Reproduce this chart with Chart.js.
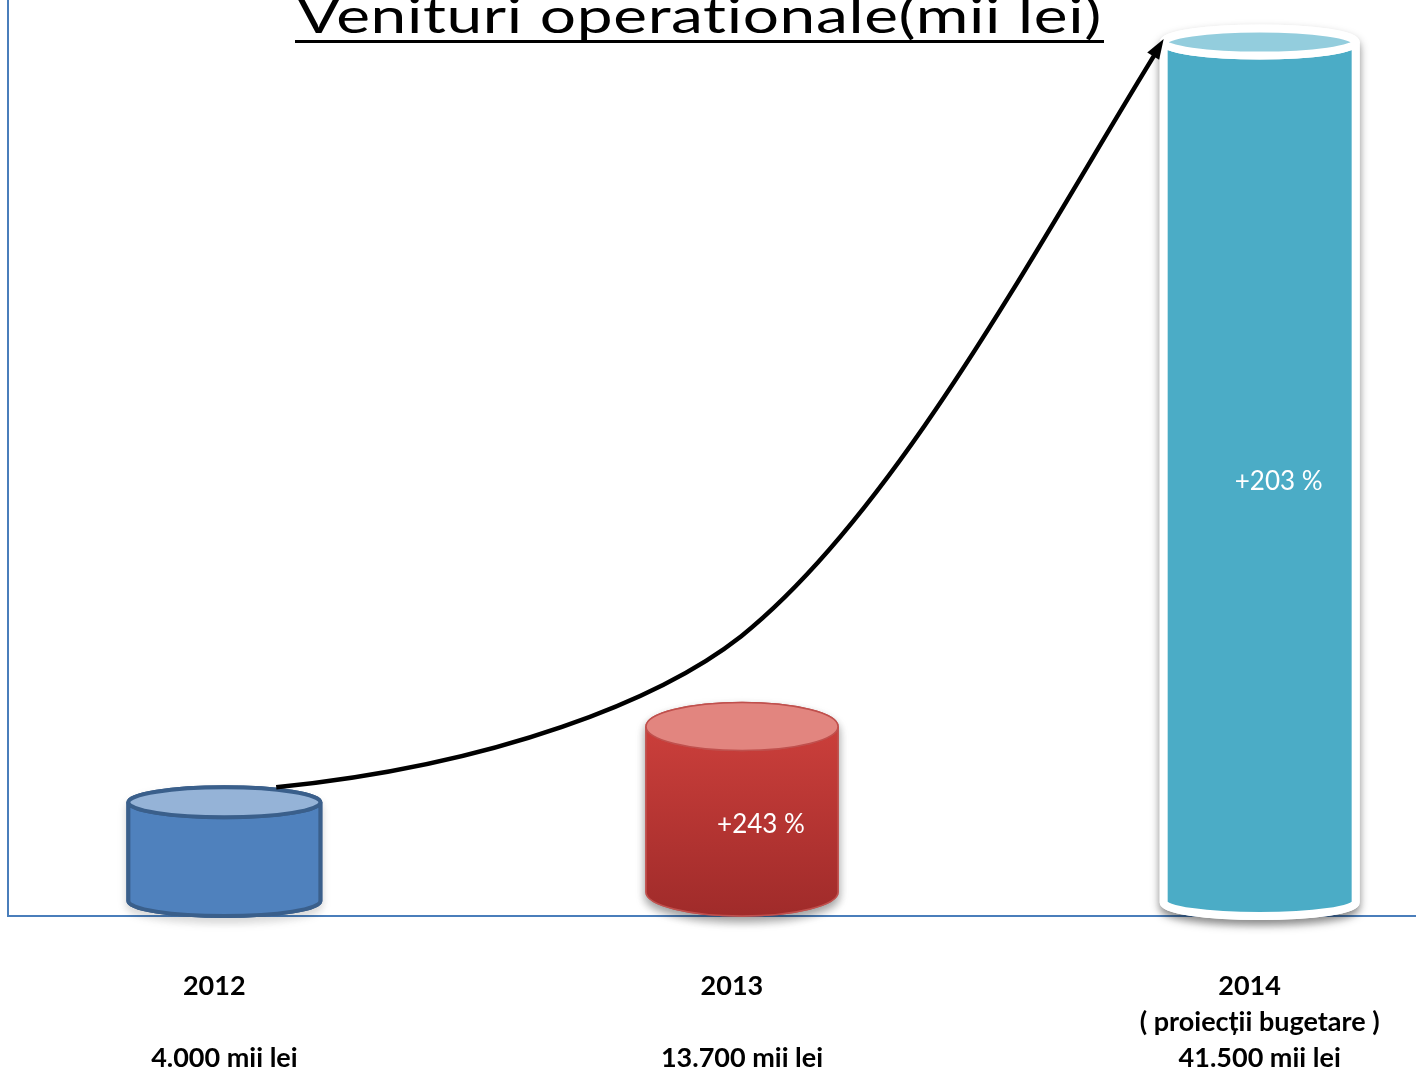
<!DOCTYPE html>
<html lang="ro">
<head>
<meta charset="utf-8">
<title>Venituri operationale</title>
<script src="https://cdn.jsdelivr.net/npm/chart.js@4"></script>
<style>
  html, body { margin: 0; padding: 0; background: #fff; }
  #wrap { width: 1416px; height: 1069px; }
</style>
</head>
<body>
<div id="wrap"><canvas id="chart"></canvas></div>
<script>
const titlu = "Venituri operationale(mii lei)";
const ani = ["2012", "2013", "2014"];
const note = ["", "", "( proiecții bugetare )"];
const venituri = [4000, 13700, 41500];
// inaltimea cilindrilor asa cum sunt desenati (mii lei pe axa ascunsa)
const inaltimi = [5400, 9000, 41500];
const cresteri = ["", "+243 %", "+203 %"];

const formatLei = (v) => String(v).replace(/\B(?=(\d{3})+(?!\d))/g, ".") + " mii lei";

const stiluri = [
  { corp: ["#4F81BD", "#4F81BD"], capac: "#95B3D7", contur: "#3A5F8B", linie: 4, ry: 15, umbra: "rgba(0,0,0,0.15)" },
  { corp: ["#CB3F3B", "#A02B2A"], capac: "#E2857F", contur: "#C0504D", linie: 1.5, ry: 24, umbra: "rgba(0,0,0,0.4)" },
  { corp: ["#4BACC6", "#4BACC6"], capac: "#93CDDD", contur: "#FFFFFF", linie: 8, ry: 13.5, umbra: "rgba(0,0,0,0.4)" },
];

function cilindru(ctx, bar, s) {
  const rx = bar.width / 2;
  const cx = bar.x;
  const yt = bar.y;
  const yb = bar.base - s.ry;

  const corp = () => {
    ctx.beginPath();
    ctx.moveTo(cx - rx, yt);
    ctx.lineTo(cx - rx, yb);
    ctx.ellipse(cx, yb, rx, s.ry, 0, Math.PI, 0, true);
    ctx.lineTo(cx + rx, yt);
    ctx.ellipse(cx, yt, rx, s.ry, 0, 0, Math.PI, false);
    ctx.closePath();
  };
  const silueta = () => {
    ctx.beginPath();
    ctx.moveTo(cx - rx, yt);
    ctx.lineTo(cx - rx, yb);
    ctx.ellipse(cx, yb, rx, s.ry, 0, Math.PI, 0, true);
    ctx.lineTo(cx + rx, yt);
    ctx.ellipse(cx, yt, rx, s.ry, 0, 0, Math.PI, true);
    ctx.closePath();
  };

  // umbra
  ctx.save();
  silueta();
  ctx.lineWidth = s.linie;
  ctx.strokeStyle = s.contur;
  ctx.fillStyle = s.contur;
  ctx.shadowColor = s.umbra;
  ctx.shadowBlur = 10;
  ctx.shadowOffsetY = 5;
  ctx.fill();
  ctx.stroke();
  ctx.restore();

  ctx.save();
  const grad = ctx.createLinearGradient(0, yt, 0, bar.base);
  grad.addColorStop(0, s.corp[0]);
  grad.addColorStop(1, s.corp[1]);
  corp();
  ctx.fillStyle = grad;
  ctx.fill();
  ctx.lineWidth = s.linie;
  ctx.strokeStyle = s.contur;
  ctx.stroke();

  ctx.beginPath();
  ctx.ellipse(cx, yt, rx, s.ry, 0, 0, Math.PI * 2);
  ctx.fillStyle = s.capac;
  ctx.fill();
  ctx.stroke();
  ctx.restore();
}

const desenCilindri = {
  id: "cilindri",
  afterDatasetsDraw(chart) {
    const { ctx } = chart;
    const bare = chart.getDatasetMeta(0).data;
    bare.forEach((bar, i) => cilindru(ctx, bar, stiluri[i]));

    // procente in interiorul cilindrilor
    ctx.save();
    ctx.fillStyle = "#fff";
    ctx.font = "26px Lato, sans-serif";
    ctx.textAlign = "center";
    ctx.textBaseline = "middle";
    bare.forEach((bar, i) => {
      if (cresteri[i]) ctx.fillText(cresteri[i], bar.x + 19, (bar.y + bar.base) / 2 + 3);
    });
    ctx.restore();

    // sageata 2012 -> 2014
    const a = bare[0], b = bare[2];
    const x0 = a.x + a.width * 0.27, y0 = a.y - stiluri[0].ry;
    const x1 = b.x - b.width / 2, y1 = b.y - 3;
    const dx = x1 - x0, dy = y1 - y0;
    const p = (fx, fy) => [x0 + fx * dx, y0 + fy * dy];
    const m = p(0.524, 0.202);
    ctx.save();
    ctx.strokeStyle = "#000";
    ctx.lineWidth = 4.5;
    ctx.beginPath();
    ctx.moveTo(x0, y0);
    ctx.bezierCurveTo(...p(0.25, 0.03), ...p(0.434, 0.118), ...m);
    const c4 = p(0.86, 0.73);
    ctx.bezierCurveTo(...p(0.70, 0.37), ...c4, x1 - 5, y1 + 9);
    ctx.stroke();
    const ang = Math.atan2(y1 - c4[1], x1 - c4[0]);
    ctx.translate(x1, y1);
    ctx.rotate(ang);
    ctx.beginPath();
    ctx.moveTo(0, 0);
    ctx.lineTo(-20, -7);
    ctx.lineTo(-20, 7);
    ctx.closePath();
    ctx.fillStyle = "#000";
    ctx.fill();
    ctx.restore();
  },
  afterDraw(chart) {
    const { ctx } = chart;
    ctx.save();
    ctx.font = "49px Lato, sans-serif";
    ctx.letterSpacing = "0.5px";
    ctx.fillStyle = "#000";
    ctx.textAlign = "left";
    ctx.textBaseline = "alphabetic";
    const stanga = 297, dreapta = 1102;
    const w = ctx.measureText(titlu).width;
    ctx.save();
    ctx.translate(stanga, 33);
    ctx.scale((dreapta - stanga) / w, 1);
    ctx.fillText(titlu, 0, 0);
    ctx.restore();
    ctx.fillRect(stanga - 2, 40, dreapta - stanga + 4, 3);
    ctx.restore();
  },
};

new Chart(document.getElementById("chart"), {
  type: "bar",
  data: {
    datasets: [
      {
        data: inaltimi.map((v, i) => ({ x: i, y: v })),
        backgroundColor: "rgba(0,0,0,0)",
        borderWidth: 0,
        barThickness: 192,
      },
    ],
  },
  options: {
    responsive: true,
    maintainAspectRatio: false,
    animation: false,
    layout: { autoPadding: false, padding: { left: 8, top: 0, right: 0, bottom: 0 } },
    plugins: {
      legend: { display: false },
      tooltip: { enabled: false },
    },
    scales: {
      x: {
        type: "linear",
        min: -0.418,
        max: 2.302,
        offset: false,
        grid: { display: false, drawTicks: false, offset: false },
        border: { display: true, color: "#4A7EBB", width: 2 },
        afterBuildTicks: (scale) => {
          scale.ticks = ani.map((_, i) => ({ value: i }));
        },
        afterFit: (scale) => {
          scale.height = 153;
          scale.paddingLeft = 0;
          scale.paddingRight = 0;
        },
        ticks: {
          autoSkip: false,
          maxRotation: 0,
          padding: 52,
          color: "#000",
          font: { size: 27, weight: "bold", family: "Lato, sans-serif", lineHeight: 1.333 },
          // anii apar putin la stanga in original
          callback: (v) => [ani[v] + "\u2003", note[v], formatLei(venituri[v])],
        },
      },
      y: {
        min: 0,
        max: 43500,
        grid: { display: false, drawTicks: false },
        border: { display: true, color: "#4A7EBB", width: 2 },
        ticks: { display: false },
      },
    },
  },
  plugins: [desenCilindri],
});
</script>
</body>
</html>
